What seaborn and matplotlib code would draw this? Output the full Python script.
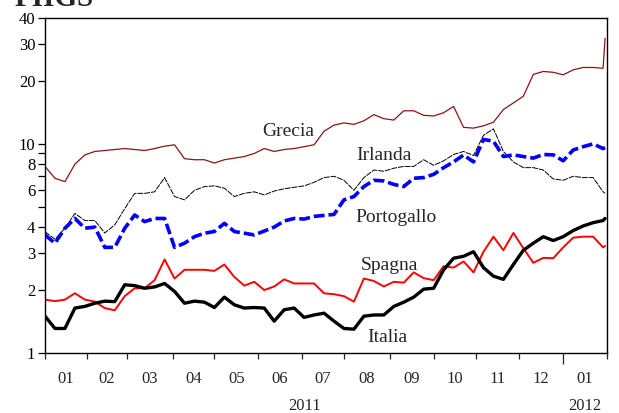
import numpy as np
import pandas as pd
import matplotlib
matplotlib.use("Agg")
import matplotlib.pyplot as plt
import matplotlib.ticker as mticker
import seaborn as sns

# ============================================================
# DATI (rendimenti a 10 anni, campione settimanale)
# ============================================================

date = list(pd.date_range("2011-01-03", periods=57, freq="7D")) + [pd.Timestamp("2012-01-31")]

grecia = [7.8, 6.85, 6.6, 8.0, 8.86, 9.2, 9.3, 9.4, 9.5, 9.4, 9.3, 9.5, 9.75, 9.9, 8.5,
          8.4, 8.4, 8.1, 8.4, 8.55, 8.7, 9.0, 9.5, 9.2, 9.4, 9.5, 9.7, 9.9, 11.5,
          12.3, 12.6, 12.4, 12.9, 13.8, 13.2, 13.0, 14.4, 14.4, 13.7, 13.6, 14.1, 15.1, 12.0,
          11.9, 12.2, 12.7, 14.6, 15.7, 16.9, 21.5, 22.2, 22.0, 21.4, 22.6, 23.2, 23.2, 23.0, 32.0]

irlanda = [3.8, 3.5, 3.95, 4.65, 4.3, 4.3, 3.75, 4.1, 4.9, 5.8, 5.8, 5.9, 6.9, 5.6, 5.4,
           6.0, 6.25, 6.3, 6.14, 5.6, 5.8, 5.9, 5.7, 5.95, 6.1, 6.2, 6.3, 6.55, 6.9,
           7.0, 6.7, 6.0, 6.9, 7.5, 7.4, 7.65, 7.8, 7.8, 8.4, 7.9, 8.3, 8.9, 9.2,
           8.8, 11.0, 11.8, 9.2, 8.2, 7.7, 7.7, 7.5, 6.8, 6.7, 7.0, 6.9, 6.9, 5.9, 5.8]

portogallo = [3.67, 3.35, 3.95, 4.4, 3.95, 4.0, 3.2, 3.2, 3.95, 4.57, 4.25, 4.4, 4.4, 3.2, 3.35,
              3.6, 3.74, 3.81, 4.17, 3.81, 3.74, 3.67, 3.83, 4.0, 4.28, 4.4, 4.37, 4.5, 4.55,
              4.6, 5.4, 5.6, 6.25, 6.7, 6.65, 6.4, 6.25, 6.85, 6.9, 7.15, 7.7, 8.2, 8.85,
              8.2, 10.5, 10.3, 8.7, 8.86, 8.7, 8.55, 8.9, 8.86, 8.3, 9.35, 9.7, 10.0, 9.5, 9.6]

spagna = [1.8, 1.77, 1.8, 1.93, 1.8, 1.76, 1.64, 1.6, 1.87, 2.04, 2.04, 2.23, 2.8, 2.27, 2.5,
          2.5, 2.5, 2.47, 2.65, 2.31, 2.1, 2.19, 2.0, 2.08, 2.25, 2.15, 2.15, 2.15, 1.93,
          1.91, 1.87, 1.76, 2.27, 2.21, 2.08, 2.19, 2.17, 2.43, 2.28, 2.23, 2.6, 2.56, 2.74,
          2.43, 3.05, 3.6, 3.1, 3.75, 3.17, 2.7, 2.85, 2.84, 3.2, 3.56, 3.6, 3.6, 3.2, 3.25]

italia = [1.5, 1.31, 1.31, 1.64, 1.67, 1.73, 1.77, 1.76, 2.12, 2.1, 2.04, 2.07, 2.15, 1.97, 1.73,
          1.77, 1.75, 1.65, 1.85, 1.7, 1.64, 1.65, 1.64, 1.42, 1.61, 1.64, 1.48, 1.52, 1.55,
          1.42, 1.31, 1.3, 1.5, 1.52, 1.52, 1.67, 1.75, 1.85, 2.02, 2.04, 2.5, 2.84, 2.9,
          3.05, 2.56, 2.33, 2.25, 2.65, 3.1, 3.35, 3.6, 3.45, 3.6, 3.85, 4.05, 4.2, 4.3, 4.4]

mesi = ["01", "02", "03", "04", "05", "06", "07", "08", "09", "10", "11", "12", "01"]
anni = ["2011", "2012"]
y_ticks = [1, 2, 3, 4, 6, 8, 10, 20, 30, 40]

# asse x per osservazione (giorni lavorativi), come nel grafico originale
ORIGINE = "2011-01-01"
inizio_mesi = pd.date_range("2011-01-01", "2012-02-01", freq="MS")
pos_mesi = np.busday_count(ORIGINE, inizio_mesi.values.astype("datetime64[D]"))
pos = np.busday_count(ORIGINE, np.array(date, dtype="datetime64[D]"))

df = pd.DataFrame({"pos": pos, "Grecia": grecia, "Irlanda": irlanda,
                   "Portogallo": portogallo, "Spagna": spagna, "Italia": italia})

# ============================================================
# GRAFICO
# ============================================================

sns.set_theme(style="ticks")
plt.rcParams["font.family"] = ["Liberation Serif", "DejaVu Serif"]

fig = plt.figure(figsize=(6.19, 4.13), dpi=100)
ax = fig.add_axes([0.0727, 0.1453, 0.908, 0.8111])

sns.lineplot(data=df, x="pos", y="Grecia", ax=ax, color="#8b1414", lw=0.9)
sns.lineplot(data=df, x="pos", y="Irlanda", ax=ax, color="black", lw=0.7, linestyle=(0, (6, 1)))
sns.lineplot(data=df, x="pos", y="Portogallo", ax=ax, color="#0000ff", lw=2.6, linestyle=(0, (3, 1.1)))
sns.lineplot(data=df, x="pos", y="Spagna", ax=ax, color="#ff0000", lw=1.4)
sns.lineplot(data=df, x="pos", y="Italia", ax=ax, color="black", lw=2.4)

ax.set_yscale("log")
ax.set_ylim(1, 40)
ax.set_xlim(0, pos_mesi[-1])
ax.yaxis.set_major_locator(mticker.FixedLocator(y_ticks))
ax.yaxis.set_major_formatter(mticker.FixedFormatter([str(v) for v in y_ticks]))
ax.yaxis.set_minor_locator(mticker.FixedLocator([5, 7, 9]))
ax.yaxis.set_minor_formatter(mticker.NullFormatter())
ax.tick_params(axis="y", which="both", direction="out", length=5, width=0.9,
               pad=2, labelsize=12, colors="black")

# tacche ai confini dei mesi, etichette al centro del mese
centri = (pos_mesi[:-1] + pos_mesi[1:]) / 2
ax.xaxis.set_major_locator(mticker.FixedLocator(pos_mesi))
ax.xaxis.set_major_formatter(mticker.NullFormatter())
ax.xaxis.set_minor_locator(mticker.FixedLocator(centri))
ax.xaxis.set_minor_formatter(mticker.FixedFormatter(mesi))
ax.tick_params(axis="x", which="major", direction="out", length=4, width=0.9)
ax.tick_params(axis="x", which="minor", length=0, pad=13, labelsize=12)
ax.xaxis.get_major_ticks()[12].tick1line.set_markersize(8)

ax.text((pos_mesi[0] + pos_mesi[12]) / 2, -0.158, anni[0], transform=ax.get_xaxis_transform(),
        ha="center", va="center", fontsize=12)
ax.text((pos_mesi[12] + pos_mesi[13]) / 2, -0.158, anni[1], transform=ax.get_xaxis_transform(),
        ha="center", va="center", fontsize=12)

ax.set_xlabel("")
ax.set_ylabel("")
for s in ax.spines.values():
    s.set_visible(True)
    s.set_linewidth(1.0)
    s.set_color("black")

# etichette delle serie
etichette = [("Grecia", 121.8, 11.4), ("Irlanda", 170, 8.77), ("Portogallo", 176, 4.43),
             ("Spagna", 173, 2.61), ("Italia", 172, 1.19)]
for nome, xx, yy in etichette:
    ax.text(xx, yy, nome, ha="center", va="center", fontsize=14)

fig.text(0.024, 0.985, "PIIGS", fontsize=21, fontweight="bold", va="baseline", ha="left")

plt.savefig("out.png", dpi=100)
plt.close()
